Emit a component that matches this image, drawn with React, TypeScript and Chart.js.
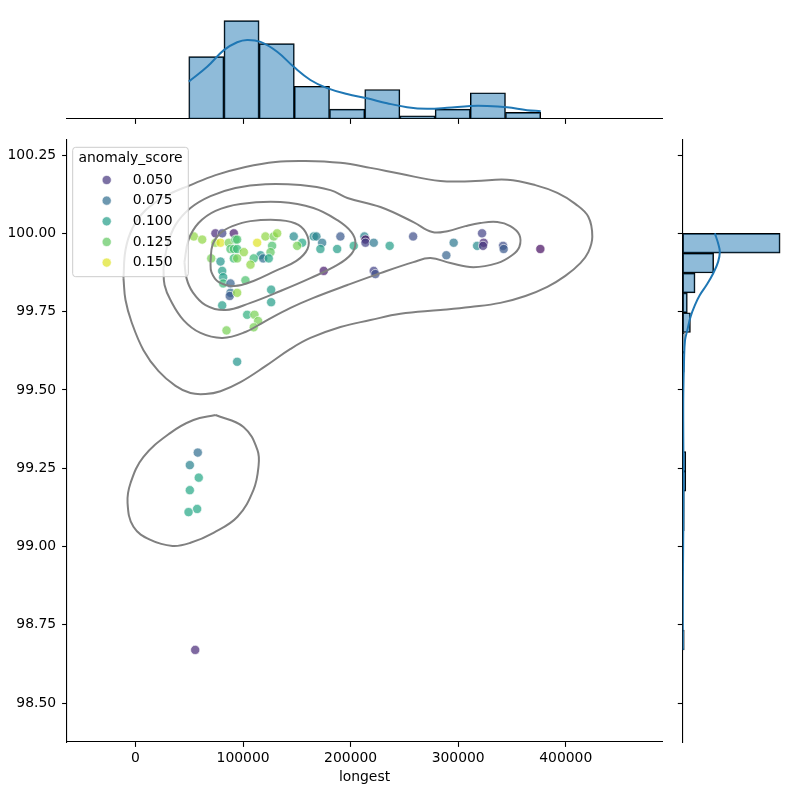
import React, { useEffect, useRef } from "react";
import { Chart, registerables } from "chart.js";

Chart.register(...registerables);

const FONT = "'DejaVu Sans', sans-serif";
const FS = 13.9;

// ---------- axes ----------
const X_MIN = -63700;
const X_MAX = 489500;
const Y_MIN = 98.376;
const Y_MAX = 100.298;
const X_TICKS = [0, 100000, 200000, 300000, 400000];
const Y_TICKS = [98.5, 98.75, 99.0, 99.25, 99.5, 99.75, 100.0, 100.25];
const X_LABEL = "longest";

// ---------- hue ----------
const HUE_TITLE = "anomaly_score";
const HUE_MIN = 0.031;
const HUE_MAX = 0.156;
const LEGEND_SCORES = [0.05, 0.075, 0.1, 0.125, 0.15];

// ---------- scatter points ----------
const POINT_X = [
  54200, 62000, 74300, 80600, 91400, 74300, 79000, 86700, 92900, 94500,
  88300, 91400, 94500, 100700, 91400, 94500, 70400, 79000, 113100, 120800,
  128500, 131700, 127000, 125500, 116200, 109900, 106900, 118700, 123900, 80600,
  81500, 81500, 102200, 88300, 88300, 87600, 94500, 80600, 126100, 126100,
  103800, 110600, 114000, 109900, 84600, 94500, 147100, 154900, 150300, 165700,
  168200, 173500, 171900, 187500, 190500, 175000, 202900, 212800, 213800, 213800,
  221500, 236300, 258100, 221500, 223000, 295800, 289000, 317600, 322200, 323700,
  323100, 341700, 342300, 376400, 57900, 50500, 58800, 50500, 57300, 49300,
  55500,
];
const POINT_Y = [
  99.99, 99.98, 100.0, 100.0, 100.0, 99.97, 99.97, 99.97, 99.98, 99.98,
  99.95, 99.95, 99.95, 99.94, 99.92, 99.92, 99.92, 99.91, 99.97, 99.99,
  99.99, 100.0, 99.96, 99.94, 99.93, 99.92, 99.9, 99.92, 99.92, 99.88,
  99.86, 99.84, 99.85, 99.84, 99.81, 99.8, 99.81, 99.77, 99.82, 99.78,
  99.74, 99.74, 99.72, 99.7, 99.69, 99.59, 99.99, 99.97, 99.96, 99.99,
  99.99, 99.97, 99.95, 99.95, 99.99, 99.88, 99.96, 99.99, 99.98, 99.97,
  99.97, 99.96, 99.99, 99.88, 99.87, 99.97, 99.93, 99.96, 100.0, 99.97,
  99.96, 99.96, 99.95, 99.95, 99.3, 99.26, 99.22, 99.18, 99.12, 99.11,
  98.67,
];
const POINT_SCORE = [
  0.135, 0.135, 0.045, 0.055, 0.04, 0.135, 0.15, 0.13, 0.12, 0.12,
  0.12, 0.12, 0.115, 0.135, 0.115, 0.13, 0.13, 0.095, 0.15, 0.135,
  0.13, 0.135, 0.12, 0.125, 0.095, 0.115, 0.135, 0.075, 0.105, 0.1,
  0.1, 0.115, 0.12, 0.07, 0.075, 0.065, 0.135, 0.1, 0.1, 0.1,
  0.11, 0.13, 0.13, 0.13, 0.13, 0.095, 0.09, 0.105, 0.13, 0.09,
  0.085, 0.08, 0.1, 0.1, 0.065, 0.04, 0.105, 0.085, 0.035, 0.055,
  0.08, 0.1, 0.06, 0.055, 0.06, 0.08, 0.07, 0.09, 0.055, 0.045,
  0.05, 0.06, 0.065, 0.035, 0.075, 0.085, 0.105, 0.105, 0.105, 0.105,
  0.045,
];

// ---------- KDE contour lines (data units) ----------
const C1A_X = [
  -11200, -9300, -2800, 9300, 27900, 51100, 74400, 102200, 130100, 158000,
  190500, 218400, 246300, 283500, 316000, 345700, 371700, 392200, 408900, 421000,
  424700, 421000, 413600, 399600, 382900, 362500, 339200, 311300, 283500, 246300,
  218400, 190500, 162600, 144100, 120800, 97600, 79000, 65100, 51100, 37200,
  21400, 7400, -3700, -9300, -11200,
];
const C1A_Y = [
  99.857, 99.947, 100.017, 100.074, 100.119, 100.154, 100.186, 100.212, 100.228, 100.231,
  100.225, 100.209, 100.19, 100.167, 100.167, 100.171, 100.154, 100.129, 100.094, 100.053,
  99.989, 99.94, 99.905, 99.864, 99.829, 99.8, 99.778, 99.765, 99.755, 99.743,
  99.723, 99.701, 99.666, 99.631, 99.576, 99.525, 99.496, 99.487, 99.49, 99.513,
  99.56, 99.627, 99.717, 99.787, 99.857,
];
const C1B_X = [
  74400, 100400, 113400, 114300, 109700, 94800, 72500, 51100, 34400, 13900,
  -1900, -7400, -4600, 7400, 32500, 53900, 74400,
];
const C1B_Y = [
  99.42, 99.382, 99.308, 99.254, 99.181, 99.095, 99.044, 99.012, 99.002, 99.021,
  99.063, 99.139, 99.203, 99.286, 99.363, 99.404, 99.42,
];
const C2_X = [
  26000, 29700, 37200, 51100, 69700, 92900, 120800, 153300, 181200, 197000,
  227700, 258400, 276000, 290000, 306700, 320600, 336400, 348500, 356900, 356900,
  350400, 336400, 314100, 292800, 274200, 258400, 227700, 197000, 165400, 144100,
  120800, 102200, 80900, 60400, 44600, 32500, 27000, 26000,
];
const C2_Y = [
  99.889, 99.963, 100.027, 100.081, 100.119, 100.145, 100.157, 100.154, 100.138, 100.113,
  100.084, 100.036, 100.004, 100.007, 100.023, 100.033, 100.036, 100.023, 99.995, 99.957,
  99.931, 99.905, 99.892, 99.905, 99.921, 99.908, 99.873, 99.835, 99.794, 99.762,
  99.72, 99.685, 99.666, 99.682, 99.723, 99.787, 99.835, 99.889,
];
const C3_X = [
  45500, 49300, 58600, 74400, 97600, 134800, 165400, 187700, 200700, 204500,
  200700, 187700, 162600, 134800, 106900, 83600, 65100, 53000, 47400, 45500,
];
const C3_Y = [
  99.908, 99.979, 100.033, 100.072, 100.094, 100.1, 100.081, 100.042, 100.004, 99.969,
  99.934, 99.899, 99.857, 99.816, 99.778, 99.755, 99.771, 99.813, 99.857, 99.908,
];
const C4_X = [
  69700, 71600, 79000, 90100, 106900, 134800, 151500, 159900, 159900, 149600,
  130100, 109700, 92000, 77100, 70600, 69700,
];
const C4_Y = [
  99.908, 99.963, 100.001, 100.023, 100.039, 100.042, 100.027, 99.991, 99.95, 99.912,
  99.88, 99.848, 99.832, 99.845, 99.876, 99.908,
];

// ---------- top marginal histogram ----------
const TOP_BIN_EDGES = [49500, 82220, 114940, 147660, 180380, 213100, 245820, 278540, 311260, 343980, 376700];
const TOP_COUNTS = [19, 30, 23, 10, 3, 9, 1, 3, 8, 2];
const TOP_Y_MAX = 31.5;
const TOP_KDE_X = [
  49500, 66600, 82100, 94500, 103800, 116200, 131700, 147100, 162600, 178200,
  196700, 215300, 233900, 252500, 271100, 289700, 311300, 326900, 345400, 364000, 376700,
];
const TOP_KDE_Y = [
  11.4, 15.9, 21.0, 23.4, 24.1, 23.5, 20.5, 15.9, 11.9, 9.4,
  7.6, 6.3, 4.8, 3.6, 3.1, 3.4, 4.0, 4.0, 3.6, 2.7, 2.4,
];

// ---------- right marginal histogram ----------
const RIGHT_BIN_EDGES = [
  98.67, 98.733, 98.797, 98.86, 98.923, 98.987, 99.05, 99.113, 99.177, 99.24, 99.303,
  99.367, 99.43, 99.493, 99.557, 99.62, 99.683, 99.747, 99.81, 99.873, 99.937, 100.0,
];
const RIGHT_COUNTS = [1, 0, 0, 0, 0, 0, 1, 1, 2, 2, 0, 0, 0, 0, 1, 1, 5, 3, 8, 20, 63];
const RIGHT_X_MAX = 66.15;
const RIGHT_KDE_Y = [
  100.0, 99.968, 99.941, 99.909, 99.872, 99.835, 99.803, 99.771, 99.734, 99.691,
  99.659, 99.59, 99.49, 99.4, 99.3, 99.2, 99.1, 99.0, 98.9, 98.8, 98.67,
];
const RIGHT_KDE_X = [
  20.8, 22.9, 24.0, 22.9, 19.7, 15.4, 11.1, 7.9, 5.1, 3.0,
  1.5, 0.85, 0.4, 0.35, 0.45, 0.5, 0.45, 0.3, 0.15, 0.08, 0.05,
];

// ---------- colour helpers ----------
const VIRIDIS = [
  "#440154", "#482475", "#414487", "#355f8d", "#2a788e", "#21918c",
  "#22a884", "#44bf70", "#7ad151", "#bddf26", "#fde725",
];
function hexRgb(h: string): number[] {
  return [parseInt(h.slice(1, 3), 16), parseInt(h.slice(3, 5), 16), parseInt(h.slice(5, 7), 16)];
}
function hueColor(s: number, alpha: number): string {
  let t = (s - HUE_MIN) / (HUE_MAX - HUE_MIN);
  t = Math.max(0, Math.min(1, t));
  const p = t * (VIRIDIS.length - 1);
  const i = Math.min(Math.floor(p), VIRIDIS.length - 2);
  const f = p - i;
  const a = hexRgb(VIRIDIS[i]);
  const b = hexRgb(VIRIDIS[i + 1]);
  const c = a.map((v, k) => Math.round(v + (b[k] - v) * f));
  return `rgba(${c[0]},${c[1]},${c[2]},${alpha})`;
}

const PT_ALPHA = 0.7;
const HIST_FILL = "rgba(31,119,180,0.5)";
const KDE_LINE = "#1f77b4";
const CONTOUR = "#808080";

function mid(edges: number[]): number[] {
  return edges.slice(0, -1).map((e, i) => (e + edges[i + 1]) / 2);
}

const tickAxisCommon = {
  grid: { display: true, drawOnChartArea: false, drawTicks: true, tickLength: 4.9, color: "#000", tickWidth: 1.1, offset: false },
  border: { display: true, color: "#000", width: 1.1 },
};

const legendPlugin = {
  id: "hueLegend",
  afterDatasetsDraw(chart: any) {
    const { ctx, chartArea } = chart;
    const left = chartArea.left + 5.7;
    const top = chartArea.top + 7.3;
    const w = 115.6;
    const h = 129.4;
    ctx.save();
    ctx.beginPath();
    if (ctx.roundRect) ctx.roundRect(left, top, w, h, 3);
    else ctx.rect(left, top, w, h);
    ctx.fillStyle = "rgba(255,255,255,0.8)";
    ctx.fill();
    ctx.strokeStyle = "#cccccc";
    ctx.lineWidth = 1;
    ctx.stroke();
    ctx.fillStyle = "#000";
    ctx.font = `${FS}px ${FONT}`;
    ctx.textBaseline = "middle";
    ctx.textAlign = "center";
    ctx.fillText(HUE_TITLE, left + w / 2, top + 11.3);
    LEGEND_SCORES.forEach((s, i) => {
      const y = top + 32.7 + i * 20.65;
      ctx.beginPath();
      ctx.arc(left + 34, y, 4.6, 0, Math.PI * 2);
      ctx.fillStyle = hueColor(s, PT_ALPHA);
      ctx.fill();
      ctx.strokeStyle = "rgba(255,255,255,0.7)";
      ctx.lineWidth = 0.9;
      ctx.stroke();
      ctx.fillStyle = "#000";
      ctx.textAlign = "left";
      ctx.fillText(s.toFixed(3), left + 60, y);
    });
    ctx.restore();
  },
};

function contourDs(xs: number[], ys: number[]) {
  return {
    type: "scatter",
    data: xs.map((x, i) => ({ x, y: ys[i] })),
    showLine: true,
    pointRadius: 0,
    borderColor: CONTOUR,
    borderWidth: 2,
    tension: 0.4,
    fill: false,
    order: 0,
  };
}

function mainConfig(): any {
  return {
    type: "scatter",
    data: {
      datasets: [
        {
          type: "scatter",
          data: POINT_X.map((x, i) => ({ x, y: POINT_Y[i] })),
          pointRadius: 4.6,
          pointBackgroundColor: POINT_SCORE.map((s) => hueColor(s, PT_ALPHA)),
          pointBorderColor: "rgba(255,255,255,0.7)",
          pointBorderWidth: 0.9,
          order: 1,
        },
        contourDs(C1A_X, C1A_Y),
        contourDs(C1B_X, C1B_Y),
        contourDs(C2_X, C2_Y),
        contourDs(C3_X, C3_Y),
        contourDs(C4_X, C4_Y),
      ],
    },
    options: {
      animation: false,
      responsive: false,
      events: [],
      layout: { padding: { left: 0, top: 140, right: 138, bottom: 0 } },
      plugins: { legend: { display: false }, tooltip: { enabled: false } },
      scales: {
        x: {
          type: "linear",
          min: X_MIN,
          max: X_MAX,
          ...tickAxisCommon,
          afterBuildTicks: (s: any) => {
            s.ticks = X_TICKS.map((v) => ({ value: v }));
          },
          afterFit: (s: any) => {
            s.height = 58;
          },
          ticks: {
            callback: (v: any) => String(v),
            font: { family: FONT, size: FS },
            color: "#000",
            padding: 3,
            maxRotation: 0,
            autoSkip: false,
          },
          title: {
            display: true,
            text: X_LABEL,
            font: { family: FONT, size: FS },
            color: "#000",
            padding: { top: 0, bottom: 14.7 },
          },
        },
        y: {
          type: "linear",
          min: Y_MIN,
          max: Y_MAX,
          ...tickAxisCommon,
          afterBuildTicks: (s: any) => {
            s.ticks = Y_TICKS.map((v) => ({ value: v }));
          },
          afterFit: (s: any) => {
            s.width = 67;
          },
          ticks: {
            callback: (v: any) => Number(v).toFixed(2),
            font: { family: FONT, size: FS },
            color: "#000",
            padding: 6,
            autoSkip: false,
          },
        },
      },
    },
    plugins: [legendPlugin],
  };
}

function topConfig(): any {
  const centers = mid(TOP_BIN_EDGES);
  return {
    type: "bar",
    data: {
      datasets: [
        {
          type: "line",
          data: TOP_KDE_X.map((x, i) => ({ x, y: TOP_KDE_Y[i] })),
          borderColor: KDE_LINE,
          borderWidth: 2,
          pointRadius: 0,
          tension: 0.4,
          fill: false,
          order: 0,
        },
        {
          type: "bar",
          data: centers.map((x, i) => ({ x, y: TOP_COUNTS[i] })),
          backgroundColor: HIST_FILL,
          borderColor: "#000",
          borderWidth: 1,
          borderSkipped: false,
          barPercentage: 1,
          categoryPercentage: 1,
          order: 1,
        },
      ],
    },
    options: {
      animation: false,
      responsive: false,
      events: [],
      layout: { padding: { left: 67, right: 138, top: 15.7, bottom: 6 } },
      plugins: { legend: { display: false }, tooltip: { enabled: false } },
      scales: {
        x: {
          type: "linear",
          min: X_MIN,
          max: X_MAX,
          offset: false,
          ...tickAxisCommon,
          afterBuildTicks: (s: any) => {
            s.ticks = X_TICKS.map((v) => ({ value: v }));
          },
          afterFit: (s: any) => {
            s.height = 5;
          },
          ticks: { display: false },
        },
        y: { type: "linear", min: 0, max: TOP_Y_MAX, display: false },
      },
    },
  };
}

function rightConfig(): any {
  const centers = mid(RIGHT_BIN_EDGES);
  return {
    type: "bar",
    data: {
      datasets: [
        {
          type: "line",
          data: RIGHT_KDE_Y.map((y, i) => ({ x: RIGHT_KDE_X[i], y })),
          borderColor: KDE_LINE,
          borderWidth: 2,
          pointRadius: 0,
          tension: 0.4,
          fill: false,
          order: 0,
        },
        {
          type: "bar",
          data: centers.map((y, i) => ({ x: RIGHT_COUNTS[i], y })),
          backgroundColor: HIST_FILL,
          borderColor: "#000",
          borderWidth: 1,
          borderSkipped: false,
          barPercentage: 1,
          categoryPercentage: 1,
          order: 1,
        },
      ],
    },
    options: {
      indexAxis: "y",
      animation: false,
      responsive: false,
      events: [],
      layout: { padding: { left: 677.7, right: 15, top: 140, bottom: 58 } },
      plugins: { legend: { display: false }, tooltip: { enabled: false } },
      scales: {
        y: {
          type: "linear",
          position: "left",
          min: Y_MIN,
          max: Y_MAX,
          offset: false,
          ...tickAxisCommon,
          afterBuildTicks: (s: any) => {
            s.ticks = Y_TICKS.map((v) => ({ value: v }));
          },
          afterFit: (s: any) => {
            s.width = 5;
          },
          ticks: { display: false },
        },
        x: { type: "linear", min: 0, max: RIGHT_X_MAX, display: false },
      },
    },
  };
}

export default function App() {
  const mainRef = useRef<HTMLCanvasElement>(null);
  const topRef = useRef<HTMLCanvasElement>(null);
  const rightRef = useRef<HTMLCanvasElement>(null);

  useEffect(() => {
    Chart.defaults.font.family = FONT;
    const charts: Chart[] = [];
    if (mainRef.current) charts.push(new Chart(mainRef.current, mainConfig()));
    if (topRef.current) charts.push(new Chart(topRef.current, topConfig()));
    if (rightRef.current) charts.push(new Chart(rightRef.current, rightConfig()));
    return () => charts.forEach((c) => c.destroy());
  }, []);

  const abs: React.CSSProperties = { position: "absolute", left: 0, top: 0 };
  return (
    <div style={{ position: "absolute", left: 0, top: 0, width: 800, height: 800, background: "#fff" }}>
      <canvas ref={mainRef} width={800} height={800} style={abs} />
      <canvas ref={topRef} width={800} height={130} style={abs} />
      <canvas ref={rightRef} width={800} height={800} style={abs} />
    </div>
  );
}
